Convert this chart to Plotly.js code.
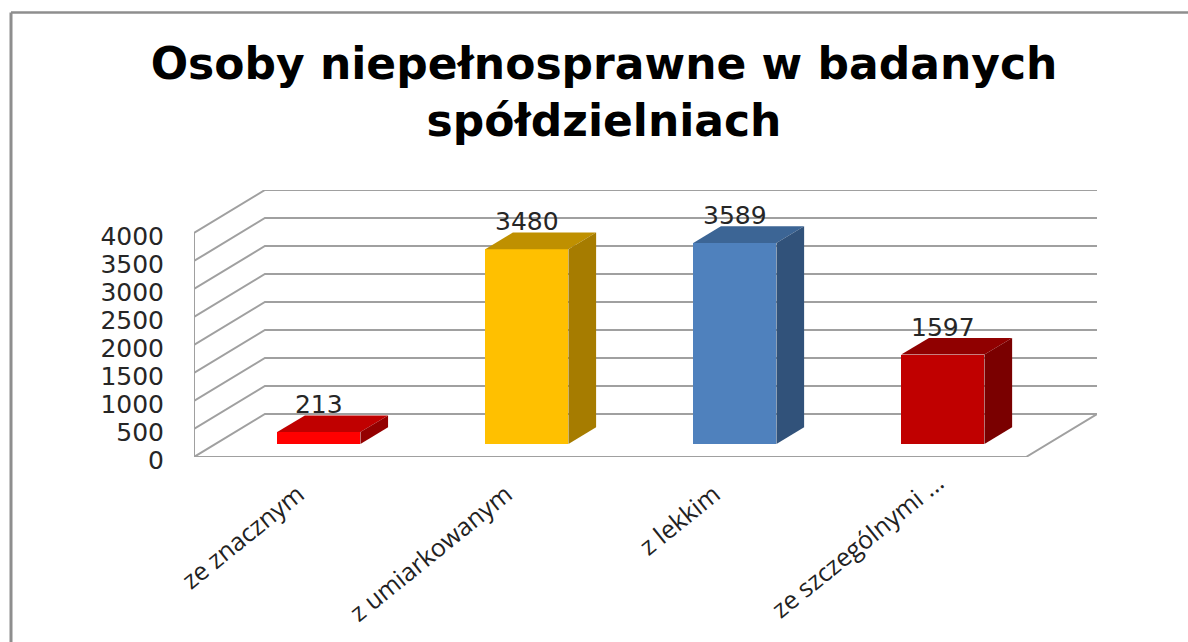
<!DOCTYPE html>
<html><head><meta charset="utf-8">
<script src="https://cdn.plot.ly/plotly-3.0.1.min.js"></script>
<style>html,body{margin:0;padding:0;background:#fff}</style></head>
<body><div id="chart" style="width:1188px;height:642px"></div>
<script>
const categories = ['ze znacznym','z umiarkowanym','z lekkim','ze szczególnymi ...'];
const values = [213,3480,3589,1597];
const frontColors = ['#FF0000','#FFC000','#4F81BD','#C00000'];
const topColors = ['#C00000','#BF9000','#3C6595','#900000'];
const sideColors = ['#940000','#A67C00','#31527A','#7A0000'];
const axisTicks = [0,500,1000,1500,2000,2500,3000,3500,4000];

// pseudo-3D geometry, in axis units
const wallDx = 0.341, wallDy = 768;      // depth of floor
const barDx = 0.133, barDy = 298;        // depth of a bar
const barShiftX = 0.1, barBase = 232;    // bar's front face position on the floor
const barWidth = 0.4;
const xMin = -0.5, xFloorEnd = 3.5, xMax = xFloorEnd + wallDx;
const yMax = 4768;
const gridColor = '#A0A0A0';
const W = 1188, H = 642, mL = 194, mR = 91, mT = 190, mB = 185;
const frameColor = '#8E8E8E';
const pxX = p => (p - mL) / (W - mL - mR);
const pxY = p => 1 - (p - mT) / (H - mT - mB);
const catFont = {family:'Open Sans',size:25,color:'#222'};
const catAngle = -39;

const idx = categories.map((_, i) => i);
const last = categories.length - 1;
const traces = [];

// back wall + side wall grid lines
const gx = [], gy = [];
axisTicks.forEach(t => {
  gx.push(xMin, xMin + wallDx, xMax, null);
  gy.push(t, t + wallDy, t + wallDy, null);
});
gx.push(xMin, xMin, null, xMin, xFloorEnd, xMax);
gy.push(0, axisTicks[axisTicks.length-1], null, 0, 0, wallDy);
traces.push({type:'scatter',mode:'lines',x:gx,y:gy,connectgaps:false,
  line:{color:gridColor,width:2},hoverinfo:'skip',showlegend:false,xaxis:'x',yaxis:'y'});

// bars, front faces
traces.push({type:'bar',x:idx.map(i=>i+barShiftX),y:values,base:idx.map(()=>barBase),
  width:barWidth,marker:{color:frontColors,line:{width:0}},showlegend:false,xaxis:'x2',yaxis:'y2'});

// bars, top + side faces
idx.forEach(i => {
  const l = i + barShiftX - barWidth/2, r = l + barWidth;
  const b = barBase, t = barBase + values[i];
  traces.push({type:'scatter',mode:'lines',fill:'toself',fillcolor:topColors[i],line:{width:0},
    x:[l,r,r+barDx,l+barDx,l],y:[t,t,t+barDy,t+barDy,t],hoverinfo:'skip',showlegend:false,xaxis:'x2',yaxis:'y2'});
  traces.push({type:'scatter',mode:'lines',fill:'toself',fillcolor:sideColors[i],line:{width:0},
    x:[r,r+barDx,r+barDx,r,r],y:[b,b+barDy,t+barDy,t,b],hoverinfo:'skip',showlegend:false,xaxis:'x2',yaxis:'y2'});
});

// value labels
traces.push({type:'scatter',mode:'text',x:idx.map(i=>i+barShiftX),y:values.map(v=>v+barBase+445),
  text:values.map(String),textposition:'middle center',
  textfont:{family:'DejaVu Sans',size:25,color:'#262626'},hoverinfo:'skip',showlegend:false,xaxis:'x2',yaxis:'y2'});

const layout = {
  width:W,height:H,paper_bgcolor:'#fff',plot_bgcolor:'rgba(0,0,0,0)',
  margin:{l:mL,r:mR,t:mT,b:mB},showlegend:false,bargap:0,
  title:{text:'Osoby niepełnosprawne w badanych<br>spółdzielniach',
    font:{family:'DejaVu Sans',size:44,color:'#000',weight:700},
    x:604/W,xanchor:'center',xref:'container',y:1-79/H,yanchor:'middle',yref:'container'},
  xaxis:{range:[xMin,xMax],tickmode:'array',tickvals:idx.slice(0,last),ticktext:categories.slice(0,last),tickangle:catAngle,
    showgrid:false,zeroline:false,showline:false,ticks:'',automargin:false,ticklabelstandoff:17,
    tickfont:catFont},
  yaxis:{range:[0,yMax],tickmode:'array',tickvals:axisTicks,ticktext:axisTicks.map(String),
    showgrid:false,zeroline:false,showline:false,ticks:'',automargin:false,ticklabelstandoff:29,
    ticklabelshift:3,
    tickfont:{family:'DejaVu Sans',size:25,color:'#262626'}},
  xaxis2:{range:[xMin,xMax],overlaying:'x',visible:false,fixedrange:true},
  yaxis2:{range:[0,yMax],overlaying:'y',visible:false,fixedrange:true},
  annotations:[{text:categories[last],xref:'paper',yref:'paper',x:pxX(856.5),y:pxY(545),
    xanchor:'center',yanchor:'middle',textangle:catAngle,showarrow:false,font:catFont}],
  shapes:[
    {type:'line',xref:'paper',yref:'paper',x0:pxX(11),x1:pxX(W),y0:pxY(12.5),y1:pxY(12.5),line:{color:frameColor,width:2.5}},
    {type:'line',xref:'paper',yref:'paper',x0:pxX(11),x1:pxX(11),y0:pxY(12.5),y1:pxY(H),line:{color:frameColor,width:3}}
  ]
};
Plotly.newPlot('chart',traces,layout,{displayModeBar:false,staticPlot:true});
</script></body></html>
